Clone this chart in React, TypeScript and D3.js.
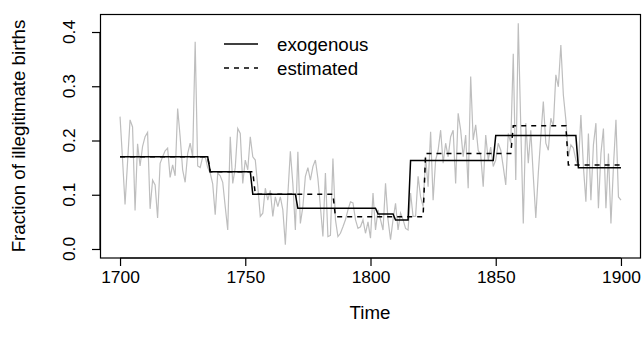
import { useRef, useEffect } from 'react'
import * as d3 from 'd3'

// yearly fraction of illegitimate births, 1700..1900
const firstYear = 1700
const observed: number[] = [
  0.244, 0.165, 0.082, 0.160, 0.238, 0.225, 0.071, 0.194, 0.153, 0.189, // 1700
  0.207, 0.215, 0.074, 0.127, 0.118, 0.057, 0.158, 0.170, 0.181, 0.186, // 1710
  0.132, 0.155, 0.135, 0.259, 0.207, 0.146, 0.123, 0.176, 0.195, 0.170, // 1720
  0.382, 0.153, 0.150, 0.170, 0.170, 0.150, 0.140, 0.120, 0.063, 0.140, // 1730
  0.135, 0.123, 0.078, 0.035, 0.207, 0.121, 0.150, 0.222, 0.213, 0.121, // 1740
  0.164, 0.146, 0.207, 0.170, 0.164, 0.115, 0.060, 0.066, 0.112, 0.090, // 1750
  0.108, 0.060, 0.096, 0.078, 0.096, 0.072, 0.008, 0.100, 0.180, 0.120, // 1760
  0.035, 0.179, 0.047, 0.078, 0.134, 0.150, 0.127, 0.152, 0.164, 0.130, // 1770
  0.078, 0.023, 0.140, 0.023, 0.025, 0.167, 0.054, 0.023, 0.029, 0.041, // 1780
  0.054, 0.072, 0.087, 0.085, 0.054, 0.038, 0.041, 0.054, 0.029, 0.050, // 1790
  0.020, 0.103, 0.035, 0.072, 0.054, 0.035, 0.121, 0.054, 0.017, 0.054, // 1800
  0.084, 0.035, 0.066, 0.054, 0.038, 0.035, 0.103, 0.060, 0.060, 0.134, // 1810
  0.096, 0.078, 0.170, 0.115, 0.216, 0.090, 0.164, 0.182, 0.219, 0.158, // 1820
  0.195, 0.170, 0.207, 0.219, 0.121, 0.250, 0.219, 0.170, 0.210, 0.112, // 1830
  0.318, 0.201, 0.229, 0.182, 0.173, 0.115, 0.210, 0.164, 0.188, 0.152, // 1840
  0.164, 0.195, 0.182, 0.152, 0.118, 0.213, 0.195, 0.360, 0.127, 0.416, // 1850
  0.226, 0.047, 0.232, 0.158, 0.219, 0.134, 0.057, 0.140, 0.207, 0.272, // 1860
  0.195, 0.182, 0.241, 0.226, 0.321, 0.299, 0.376, 0.284, 0.238, 0.170, // 1870
  0.192, 0.186, 0.164, 0.152, 0.247, 0.152, 0.087, 0.213, 0.090, 0.192, // 1880
  0.232, 0.075, 0.176, 0.222, 0.075, 0.176, 0.047, 0.152, 0.238, 0.096, // 1890
  0.090,                                                                 // 1900
]

// piecewise constant regimes: first year of each regime and its level
const exoStarts = [1700, 1736, 1753, 1771, 1803, 1810, 1816, 1850, 1883]
const exoLevels = [0.17, 0.1425, 0.101, 0.075, 0.0645, 0.0535, 0.163, 0.209, 0.15]
const estStarts = [1700, 1736, 1754, 1786, 1822, 1857, 1879]
const estLevels = [0.17, 0.1425, 0.101, 0.0596, 0.176, 0.227, 0.155]

const xTicks = [1700, 1750, 1800, 1850, 1900]
const yTicks = [0, 0.1, 0.2, 0.3, 0.4]
const legendItems = [
  { label: 'exogenous', dash: null },
  { label: 'estimated', dash: '5,5' },
]

const W = 642
const H = 347
const FONT = '"Liberation Sans", Arial, Helvetica, sans-serif'
const TICK_SIZE = '17.4px'
const LAB_SIZE = '18.7px'

function regimeAt(year: number, starts: number[], levels: number[]) {
  let v = levels[0]
  starts.forEach((s, i) => { if (year >= s) v = levels[i] })
  return v
}

export default function App() {
  const svgRef = useRef<SVGSVGElement | null>(null)

  useEffect(() => {
    document.body.style.margin = '0'
    if (!svgRef.current) return
    const svg = d3.select(svgRef.current)
    svg.selectAll('*').remove()

    const years = observed.map((_, i) => firstYear + i)
    const x = d3.scaleLinear().domain([1692, 1908]).range([100, 641])
    const y = d3.scaleLinear().domain([-0.0166, 0.4332]).range([258, 14])

    const line = d3.line<[number, number]>().x(d => x(d[0])).y(d => y(d[1]))

    // observed series
    svg.append('path')
      .attr('d', line(years.map((yr, i) => [yr, observed[i]] as [number, number])))
      .attr('fill', 'none').attr('stroke', '#bebebe').attr('stroke-width', 1.2)

    // exogenous regimes
    svg.append('path')
      .attr('d', line(years.map(yr => [yr, regimeAt(yr, exoStarts, exoLevels)] as [number, number])))
      .attr('fill', 'none').attr('stroke', '#000').attr('stroke-width', 1.5)

    // estimated regimes
    svg.append('path')
      .attr('d', line(years.map(yr => [yr, regimeAt(yr, estStarts, estLevels)] as [number, number])))
      .attr('fill', 'none').attr('stroke', '#000').attr('stroke-width', 1.5)
      .attr('stroke-dasharray', '5,5')

    // box
    svg.append('rect')
      .attr('x', 100.5).attr('y', 14.5).attr('width', 540).attr('height', 243.5)
      .attr('fill', 'none').attr('stroke', '#000').attr('stroke-width', 1.2)

    // x axis
    const xAxis = svg.append('g').attr('transform', 'translate(0,258)')
      .call(d3.axisBottom(x).tickValues(xTicks).tickFormat(d3.format('d')).tickSize(8).tickPadding(5))
    xAxis.select('.domain')
      .attr('d', `M${x(1700)},0H${x(1900)}`).attr('stroke-width', 1.2)
    xAxis.selectAll('line').attr('stroke-width', 1.2)
    xAxis.selectAll('text').attr('font-family', FONT).attr('font-size', TICK_SIZE).attr('fill', '#000')

    // y axis, R style rotated labels
    const yAxis = svg.append('g').attr('transform', 'translate(100,0)')
      .call(d3.axisLeft(y).tickValues(yTicks).tickFormat(d3.format('.1f')).tickSize(8))
    yAxis.select('.domain')
      .attr('d', `M0,${y(0)}V${y(0.4)}`).attr('stroke-width', 1.2)
    yAxis.selectAll('line').attr('stroke-width', 1.2)
    yAxis.selectAll('text').remove()
    yTicks.forEach(t => {
      svg.append('text')
        .attr('transform', `translate(75,${y(t)}) rotate(-90)`)
        .attr('text-anchor', 'middle')
        .attr('font-family', FONT).attr('font-size', TICK_SIZE).attr('fill', '#000')
        .text(d3.format('.1f')(t))
    })

    // axis titles
    svg.append('text').attr('x', 370).attr('y', 319)
      .attr('text-anchor', 'middle').attr('font-family', FONT).attr('font-size', LAB_SIZE)
      .text('Time')
    svg.append('text').attr('transform', `translate(25,136) rotate(-90)`)
      .attr('text-anchor', 'middle').attr('font-family', FONT).attr('font-size', LAB_SIZE)
      .text('Fraction of illegitimate births')

    // legend
    legendItems.forEach((item, i) => {
      const ly = 44 + i * 24
      const l = svg.append('line').attr('x1', 224).attr('x2', 258).attr('y1', ly).attr('y2', ly)
        .attr('stroke', '#000').attr('stroke-width', 1.5)
      if (item.dash) l.attr('stroke-dasharray', item.dash)
      svg.append('text').attr('x', 277).attr('y', ly + 6.5)
        .attr('font-family', FONT).attr('font-size', LAB_SIZE)
        .text(item.label)
    })
  }, [])

  return (
    <svg ref={svgRef} width={W} height={H} viewBox={`0 0 ${W} ${H}`}
      style={{ display: 'block', background: '#fff' }} />
  )
}
